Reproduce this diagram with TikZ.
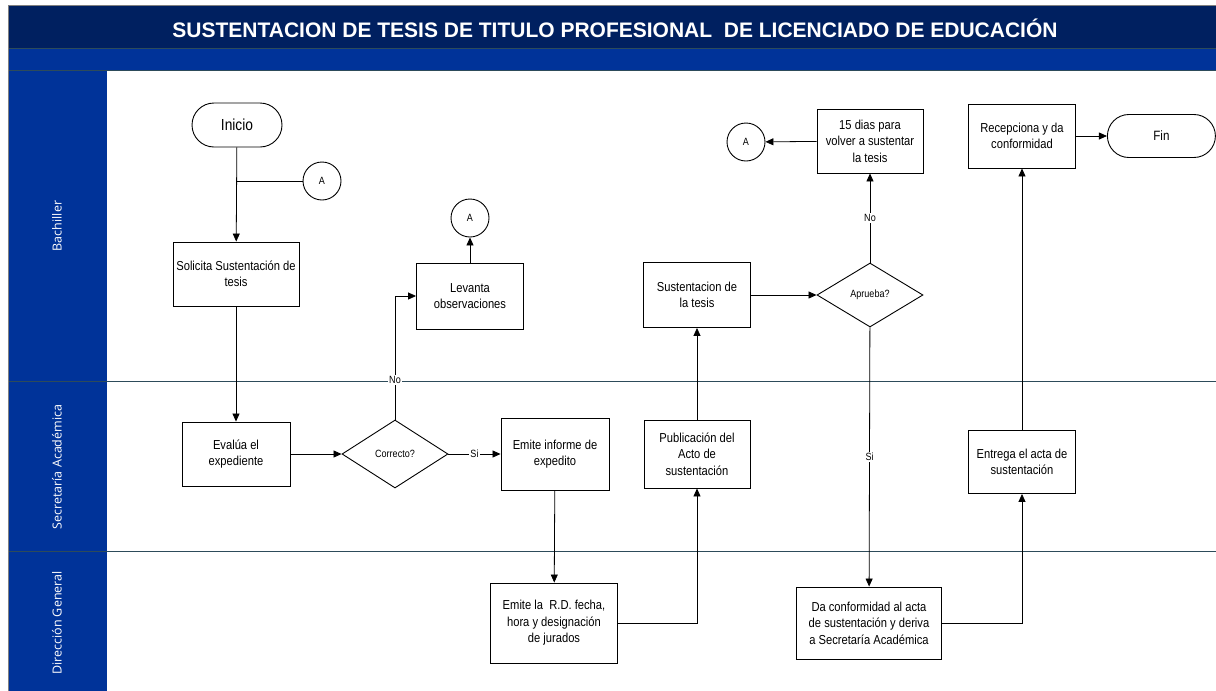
\documentclass[tikz,border=0pt]{standalone}
\usepackage{fontspec}
\setmainfont{Liberation Sans}
\newfontfamily\narrowfont[FakeStretch=0.86]{Liberation Sans}
\newfontfamily\lanefont{Open Sans}
\usetikzlibrary{arrows.meta,positioning,shapes.geometric,shapes.misc}

\definecolor{titlenavy}{RGB}{0,32,96}
\definecolor{laneblue}{RGB}{0,51,153}
\definecolor{laneline}{RGB}{45,75,90}

\begin{document}
\begin{tikzpicture}[
  x=1pt,y=-1pt,
  proc/.style={draw,line width=0.9pt,align=center,inner sep=2pt,
    font=\narrowfont\fontsize{13}{16.5}\selectfont},
  decision/.style={draw,diamond,aspect=1.6,inner sep=0pt,line width=0.9pt,
    font=\narrowfont\fontsize{10.5}{12}\selectfont},
  term/.style={draw,rounded rectangle,line width=0.9pt,inner sep=0pt},
  conn/.style={draw,circle,minimum size=38,inner sep=0pt,line width=0.9pt,
    font=\narrowfont\fontsize{10.5}{12}\selectfont},
  flow/.style={line width=0.8pt,-{Triangle[length=8pt,width=7pt]}},
  link/.style={line width=0.8pt},
  lbl/.style={fill=white,inner sep=1pt,font=\narrowfont\fontsize{10.5}{12}\selectfont},
  lane/.style={rotate=90,text=white,font=\lanefont\fontsize{12.5}{14}\selectfont}
]
  \useasboundingbox (0,0) rectangle (1216,691);

  % pool and lanes
  \fill[titlenavy] (8,5) rectangle (1216,48);
  \fill[laneblue] (8,48) rectangle (1216,70);
  \fill[laneblue] (8,70) rectangle (107,691);
  \draw[laneline,line width=0.8pt] (8,48) -- (1216,48);
  \draw[laneline,line width=0.8pt] (8,70) -- (1216,70);
  \draw[laneline,line width=0.8pt] (8,381) -- (1216,381);
  \draw[laneline,line width=0.8pt] (8,551) -- (1216,551);
  \draw[gray,line width=0.6pt] (8,691) -- (8,5) -- (1216,5);

  \node[text=white,font=\bfseries\fontsize{21}{24}\selectfont] (title) at (615,28)
    {SUSTENTACION DE TESIS DE TITULO PROFESIONAL\ \ DE LICENCIADO DE EDUCACIÓN};
  \node[lane] (bach) at (57,226) {Bachiller};
  \node[lane] (secr) at (57,467) {Secretaría Académica};
  \node[lane] (dirg) at (57,623) {Dirección General};

  % steps
  \node[term,minimum width=90,minimum height=44,
    font=\narrowfont\fontsize{16}{18}\selectfont] (ini) at (237,125) {Inicio};
  \node[conn] (a1) at (322,181) {A};
  \node[proc,minimum width=126,minimum height=64] (sol) at (236,274)
    {Solicita Sustentación de\\tesis};
  \node[proc,minimum width=108,minimum height=64] (eva) at (236,454)
    {Evalúa el\\expediente};
  \node[decision,minimum width=106,minimum height=68] (cor) at (395,454) {Correcto?};
  \node[proc,minimum width=108,minimum height=72] (inf) at (555,454)
    {Emite informe de\\expedito};
  \node[proc,minimum width=107,minimum height=66] (lev) at (470,296)
    {Levanta\\observaciones};
  \node[conn] (a2) at (470,218) {A};
  \node[proc,minimum width=127,minimum height=80] (rd) at (554,623)
    {Emite la\ \ R.D. fecha,\\hora y designación\\de jurados};
  \node[proc,minimum width=106,minimum height=68] (pub) at (697,454)
    {Publicación del\\Acto de\\sustentación};
  \node[proc,minimum width=107,minimum height=65] (sus) at (697,295)
    {Sustentacion de\\la tesis};
  \node[decision,minimum width=106,minimum height=64] (apr) at (870,295) {Aprueba?};
  \node[proc,minimum width=106,minimum height=64] (dias) at (870,141)
    {15 dias para\\volver a sustentar\\la tesis};
  \node[conn] (a3) at (746,142) {A};
  \node[proc,minimum width=145,minimum height=72] (da) at (869,623)
    {Da conformidad al acta\\de sustentación y deriva\\a Secretaría Académica};
  \node[proc,minimum width=107,minimum height=63] (ent) at (1022,462)
    {Entrega el acta de\\sustentación};
  \node[proc,minimum width=107,minimum height=64] (rec) at (1022,136)
    {Recepciona y da\\conformidad};
  \node[term,minimum width=108,minimum height=43,right=31 of rec,
    font=\narrowfont\fontsize{13.5}{15}\selectfont] (fin) {Fin};

  % flow
  \draw[flow] (ini) -- (sol);
  \draw[link] (a1) -- (a1 -| ini);
  \draw[flow] (sol) -- (eva);
  \draw[flow] (eva) -- (cor);
  \draw[flow] (cor) -- node[lbl] {Si} (inf);
  \draw[flow] (cor.north) |- node[lbl,pos=0.16] {No} (lev.west);
  \draw[flow] (lev) -- (a2);
  \draw[flow] (inf) -- (rd);
  \draw[flow] (rd.east) -| (pub.south);
  \draw[flow] (pub) -- (sus);
  \draw[flow] (sus) -- (apr);
  \draw[flow] (apr) -- node[lbl] {No} (dias);
  \draw[flow] (dias) -- (a3);
  \draw[flow] (apr) -- node[lbl] {Si} (da);
  \draw[flow] (da.east) -| (ent.south);
  \draw[flow] (ent) -- (rec);
  \draw[flow] (rec) -- (fin);
\end{tikzpicture}
\end{document}
